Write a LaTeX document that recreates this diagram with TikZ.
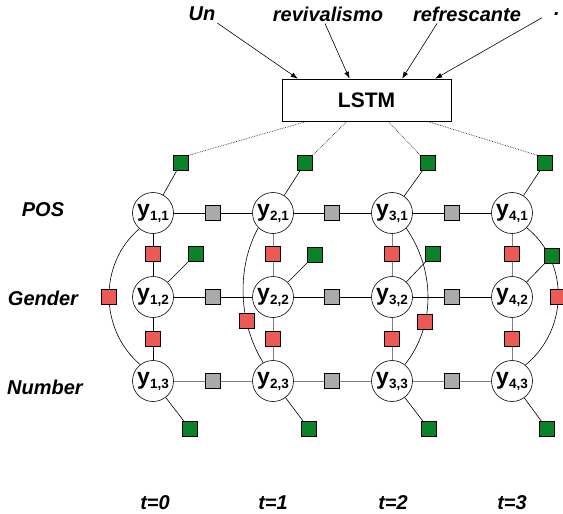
\documentclass[tikz,border=0pt]{standalone}
\usepackage{fontspec}
\setmainfont{Liberation Sans}
\usetikzlibrary{arrows.meta}
\usetikzlibrary{calc}
\usetikzlibrary{backgrounds}

\definecolor{factgreen}{RGB}{10,130,40}
\definecolor{factred}{RGB}{236,90,86}
\definecolor{factgray}{RGB}{170,170,170}

\newcommand{\yvar}[2]{{\fontsize{23}{23}\selectfont y}\raisebox{-4pt}{\fontsize{13.5}{13.5}\selectfont #1,#2}}

\begin{document}
\begin{tikzpicture}[x=1pt, y=-1pt,
    var/.style={draw, circle, fill=white, minimum size=41pt, inner sep=0pt, line width=0.6pt, font=\bfseries},
    box/.style={draw, minimum size=15pt, inner sep=0pt, line width=0.6pt},
    greenf/.style={box, fill=factgreen},
    redf/.style={box, fill=factred},
    grayf/.style={box, fill=factgray},
    word/.style={inner sep=2pt, font=\bfseries\itshape\fontsize{20}{24}\selectfont},
    edge/.style={line width=0.6pt},
    softedge/.style={line width=0.9pt, black!50},
    dotline/.style={densely dotted, line width=0.7pt, black!80},
    wordarrow/.style={line width=0.6pt, -{Latex[length=7pt, width=5pt]}}]

    \useasboundingbox (0,0) rectangle (563,514);

    % Declare the words and the LSTM
    \node[word] at (202, 14) (un) {Un};
    \node[word] at (328, 14) (revi) {revivalismo};
    \node[word] at (467, 14) (refr) {refrescante};
    \node[word] at (557, 14) (dot) {.};
    \node[draw, line width=0.6pt, minimum width=169pt, minimum height=42pt, inner sep=0pt,
          font=\bfseries\fontsize{21}{24}\selectfont] at (366.5, 100) (lstm) {LSTM};

    % Declare the row and time labels
    \node[word] at (43, 210) (pos) {POS};
    \node[word] at (43, 298) (gender) {Gender};
    \node[word] at (45, 387) (number) {Number};
    \node[word] at (155, 503) (t0) {t=0};
    \node[word] at (273, 503) (t1) {t=1};
    \node[word] at (393, 503) (t2) {t=2};
    \node[word] at (512, 503) (t3) {t=3};

    % Declare the variables
    \node[var] at (153, 213) (y11) {\yvar{1}{1}};
    \node[var] at (153, 297) (y12) {\yvar{1}{2}};
    \node[var] at (153, 381) (y13) {\yvar{1}{3}};
    \node[var] at (273, 213) (y21) {\yvar{2}{1}};
    \node[var] at (273, 297) (y22) {\yvar{2}{2}};
    \node[var] at (273, 381) (y23) {\yvar{2}{3}};
    \node[var] at (392, 213) (y31) {\yvar{3}{1}};
    \node[var] at (392, 297) (y32) {\yvar{3}{2}};
    \node[var] at (392, 381) (y33) {\yvar{3}{3}};
    \node[var] at (512, 213) (y41) {\yvar{4}{1}};
    \node[var] at (512, 297) (y42) {\yvar{4}{2}};
    \node[var] at (512, 381) (y43) {\yvar{4}{3}};

    % Declare the transition factors
    \node[grayf] at (213, 213) (tA1) {};
    \node[grayf] at (213, 297) (tA2) {};
    \node[grayf] at (213, 381) (tA3) {};
    \node[grayf] at (332, 213) (tB1) {};
    \node[grayf] at (332, 297) (tB2) {};
    \node[grayf] at (332, 381) (tB3) {};
    \node[grayf] at (452, 213) (tC1) {};
    \node[grayf] at (452, 297) (tC2) {};
    \node[grayf] at (452, 381) (tC3) {};

    % Declare the pairwise factors
    \node[redf] at (153, 254) (v1a) {};
    \node[redf] at (153, 339) (v1b) {};
    \node[redf] at (273, 254) (v2a) {};
    \node[redf] at (273, 339) (v2b) {};
    \node[redf] at (392, 254) (v3a) {};
    \node[redf] at (392, 339) (v3b) {};
    \node[redf] at (512, 254) (v4a) {};
    \node[redf] at (512, 339) (v4b) {};

    % Declare the unary factors
    \node[greenf] at (181, 163) (o1) {};
    \node[greenf] at (305, 163) (o2) {};
    \node[greenf] at (428, 163) (o3) {};
    \node[greenf] at (545, 163) (o4) {};
    \node[greenf] at (196, 254) (m1) {};
    \node[greenf] at (315, 255) (m2) {};
    \node[greenf] at (433, 254) (m3) {};
    \node[greenf] at (552, 256) (m4) {};
    \node[greenf] at (190, 429) (b1) {};
    \node[greenf] at (309, 429) (b2) {};
    \node[greenf] at (429, 429) (b3) {};
    \node[greenf] at (547, 429) (b4) {};

    % Declare edges from the words
    \draw[wordarrow] (un.south east) -- ($(lstm.north west)!0.095!(lstm.north east)$);
    \draw[wordarrow] ([xshift=-3pt]revi.south) -- ($(lstm.north west)!0.40!(lstm.north east)$);
    \draw[wordarrow] ([xshift=-30pt]refr.south) -- ($(lstm.north west)!0.71!(lstm.north east)$);
    \draw[wordarrow] ([xshift=-15pt]dot.south) -- ($(lstm.north west)!0.905!(lstm.north east)$);

    \begin{scope}[on background layer]
        % Declare LSTM edges
        \draw[dotline] ($(lstm.south west)!0.15!(lstm.south east)$) -- (o1.north east);
        \draw[dotline] ($(lstm.south west)!0.385!(lstm.south east)$) -- (o2.north east);
        \draw[dotline] ($(lstm.south west)!0.627!(lstm.south east)$) -- (o3.north west);
        \draw[dotline] ($(lstm.south west)!0.858!(lstm.south east)$) -- (o4.north west);

        % Declare edges through time
        \draw[edge] (y11) -- (tA1) -- (y21) -- (tB1) -- (y31) -- (tC1) -- (y41);
        \draw[edge] (y12) -- (tA2) -- (y22) -- (tB2) -- (y32) -- (tC2) -- (y42);
        \draw[softedge] (y13) -- (tA3) -- (y23) -- (tB3) -- (y33) -- (tC3) -- (y43);

        % Declare edges between tags
        \draw[edge] (y11) -- (v1a) -- (y12) -- (v1b) -- (y13);
        \draw[softedge] (y21) -- (v2a) -- (y22) -- (v2b) -- (y23);
        \draw[softedge] (y31) -- (v3a) -- (y32) -- (v3b) -- (y33);
        \draw[softedge] (y41) -- (v4a) -- (y42) -- (v4b) -- (y43);

        % Declare skip edges
        \draw[edge] (y11.229) .. controls +(-41,35) and +(-41,-35) .. (y13.128)
            node[redf, pos=0.5] (s1) {};
        \draw[edge] (y21.225) .. controls +(-22,40) and +(-25,-40) .. (y23.118)
            node[redf, pos=0.68] (s2) {};
        \draw[edge] (y31.313) .. controls +(28,40) and +(32,-40) .. (y33.52)
            node[redf, pos=0.68] (s3) {};
        \draw[edge] (y41.315) .. controls +(43,35) and +(43,-35) .. (y43.50)
            node[redf, pos=0.5] (s4) {};

        % Declare unary edges
        \draw[edge] (o1) -- (y11);
        \draw[edge] (o2) -- (y21);
        \draw[edge] (o3) -- (y31);
        \draw[edge] (o4) -- (y41);
        \draw[edge] (y12) -- (m1);
        \draw[edge] (y22) -- (m2);
        \draw[edge] (y32) -- (m3);
        \draw[edge] (y42) -- (m4);
        \draw[edge] (y13) -- (b1);
        \draw[edge] (y23) -- (b2);
        \draw[edge] (y33) -- (b3);
        \draw[edge] (y43) -- (b4);
    \end{scope}

\end{tikzpicture}
\end{document}
